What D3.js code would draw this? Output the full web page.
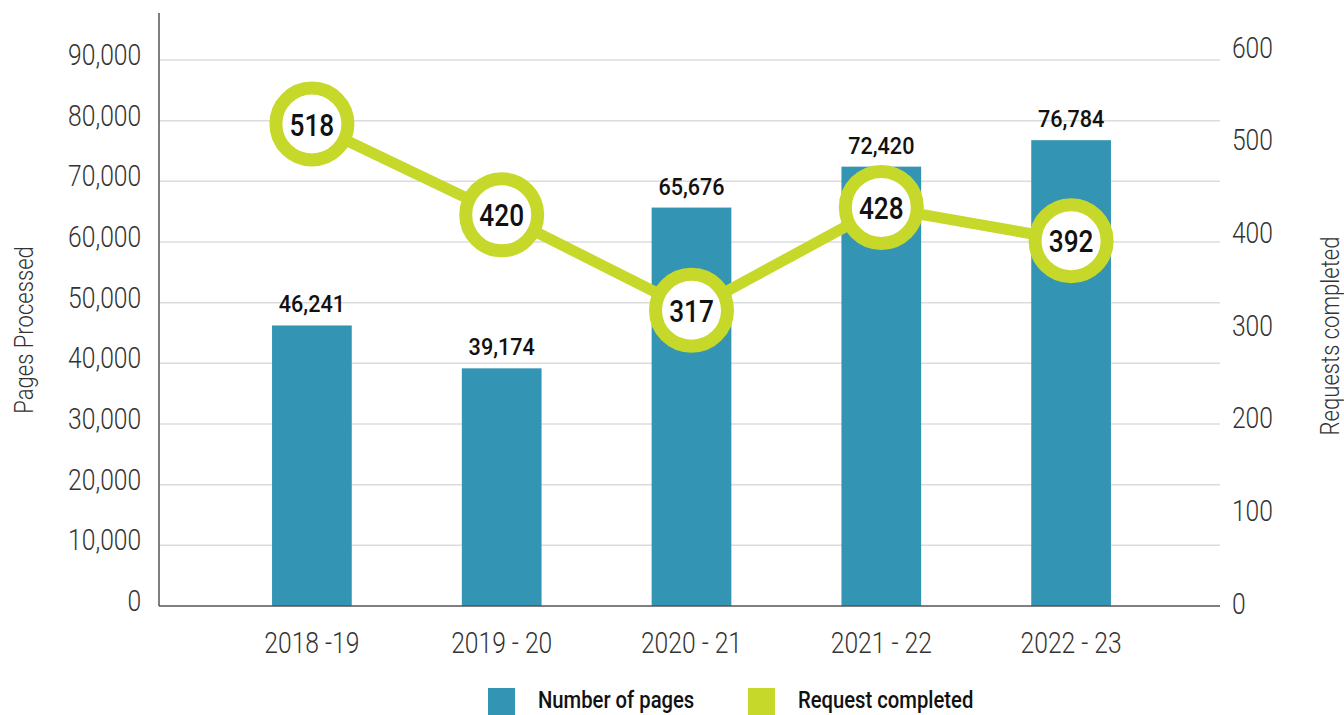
<!DOCTYPE html>
<html>
<head>
<meta charset="utf-8">
<script src="https://cdn.jsdelivr.net/npm/d3@7"></script>
<style>
  html, body { margin: 0; padding: 0; background: #fff; }
  svg { display: block; font-family: Roboto, "Liberation Sans", sans-serif; }
</style>
</head>
<body>
<svg id="chart" width="1344" height="715"></svg>
<script>
// Fiscal years and the two measures per year
const years = ["2018 -19", "2019 - 20", "2020 - 21", "2021 - 22", "2022 - 23"];
const pages = [46241, 39174, 65676, 72420, 76784];
const requests = [518, 420, 317, 428, 392];
const pageTicks = [0, 10000, 20000, 30000, 40000, 50000, 60000, 70000, 80000, 90000];
const requestTicks = [0, 100, 200, 300, 400, 500, 600];
const seriesNames = ["Number of pages", "Request completed"];

const BAR = "#3394b3";
const GREEN = "#c6d92b";
const TEXT = "#333";

const svg = d3.select("#chart");
const plotLeft = 159, plotRight = 1220, plotTop = 60, plotBottom = 606;

const x = d3.scaleBand().domain(years).range([217, 1166])
  .paddingInner(0.58).paddingOuter(0.29);
const yL = d3.scaleLinear().domain([0, 90000]).range([plotBottom, plotTop]);
const yR = d3.scaleLinear().domain([0, 600]).range([604, 48]);

// horizontal gridlines
svg.append("g").selectAll("line").data(pageTicks.filter(d => d > 0)).join("line")
  .attr("x1", plotLeft).attr("x2", plotRight)
  .attr("y1", d => yL(d)).attr("y2", d => yL(d))
  .attr("stroke", "#dcdcdc").attr("stroke-width", 1.5);

// left axis labels
const axL = svg.append("g").attr("transform", `translate(${plotLeft},0)`)
  .call(d3.axisLeft(yL).tickValues(pageTicks).tickSize(0).tickPadding(21).tickFormat(d3.format(",")));
axL.select(".domain").remove();
axL.selectAll("text")
  .attr("font-size", 29).attr("font-weight", 300).attr("fill", TEXT)
  .attr("font-family", "Roboto").attr("dy", "0.15em")
  .attr("transform", "scale(0.85,1)");

// right axis labels
const axR = svg.append("g").attr("transform", `translate(${plotRight},0)`)
  .call(d3.axisRight(yR).tickValues(requestTicks).tickSize(0).tickPadding(14).tickFormat(d3.format("d")));
axR.select(".domain").remove();
axR.selectAll("text")
  .attr("font-size", 29).attr("font-weight", 300).attr("fill", TEXT)
  .attr("font-family", "Roboto")
  .attr("transform", "scale(0.85,1)");

// bottom axis labels
const axB = svg.append("g").attr("transform", `translate(0,${plotBottom})`)
  .call(d3.axisBottom(x).tickSize(0).tickPadding(26));
axB.select(".domain").remove();
axB.selectAll("text")
  .attr("font-size", 29).attr("font-weight", 300).attr("fill", TEXT)
  .attr("font-family", "Roboto")
  .attr("transform", "scale(0.85,1)");

// bars
svg.append("g").selectAll("rect").data(pages).join("rect")
  .attr("x", (d, i) => x(years[i]))
  .attr("width", x.bandwidth())
  .attr("y", d => yL(d))
  .attr("height", d => yL(0) - yL(d))
  .attr("fill", BAR);

// bar value labels
svg.append("g").selectAll("text").data(pages).join("text")
  .attr("transform", (d, i) => `translate(${x(years[i]) + x.bandwidth() / 2},${yL(d) - 13}) scale(0.9,1)`)
  .attr("text-anchor", "middle")
  .attr("font-size", 24).attr("font-weight", 500).attr("fill", "#111")
  .text(d => d3.format(",")(d));

// axis lines
svg.append("line").attr("x1", plotLeft).attr("x2", plotLeft).attr("y1", 13).attr("y2", plotBottom)
  .attr("stroke", "#555").attr("stroke-width", 1.5);
svg.append("line").attr("x1", plotLeft).attr("x2", plotRight).attr("y1", plotBottom).attr("y2", plotBottom)
  .attr("stroke", "#555").attr("stroke-width", 1.5);

// request line with ringed markers
const cx = (d, i) => x(years[i]) + x.bandwidth() / 2;
svg.append("path").datum(requests)
  .attr("d", d3.line().x(cx).y(d => yR(d)))
  .attr("fill", "none").attr("stroke", GREEN).attr("stroke-width", 11)
  .attr("stroke-linejoin", "round");
svg.append("g").selectAll("circle").data(requests).join("circle")
  .attr("cx", cx).attr("cy", d => yR(d)).attr("r", 36)
  .attr("fill", "#fff").attr("stroke", GREEN).attr("stroke-width", 13);
svg.append("g").selectAll("text").data(requests).join("text")
  .attr("transform", (d, i) => `translate(${cx(d, i)},${yR(d)}) scale(0.82,1)`)
  .attr("text-anchor", "middle").attr("dy", "0.36em")
  .attr("font-size", 32).attr("font-weight", 500).attr("fill", "#111")
  .text(d => d);

// axis titles
svg.append("text")
  .attr("transform", "translate(33,330) rotate(-90) scale(0.85,1)")
  .attr("text-anchor", "middle")
  .attr("font-size", 26).attr("font-weight", 300).attr("fill", TEXT)
  .text("Pages Processed");
svg.append("text")
  .attr("transform", "translate(1339,336) rotate(-90) scale(0.85,1)")
  .attr("text-anchor", "middle")
  .attr("font-size", 26).attr("font-weight", 300).attr("fill", TEXT)
  .text("Requests completed");

// legend
const legend = svg.append("g").selectAll("g").data(seriesNames).join("g")
  .attr("transform", (d, i) => `translate(${[488, 748][i]},688)`);
legend.append("rect").attr("width", 27).attr("height", 27)
  .attr("fill", (d, i) => [BAR, GREEN][i]);
legend.append("text")
  .attr("transform", "translate(50,20) scale(0.88,1)")
  .attr("font-size", 23).attr("font-weight", 500).attr("fill", "#111")
  .text(d => d);
</script>
</body>
</html>
